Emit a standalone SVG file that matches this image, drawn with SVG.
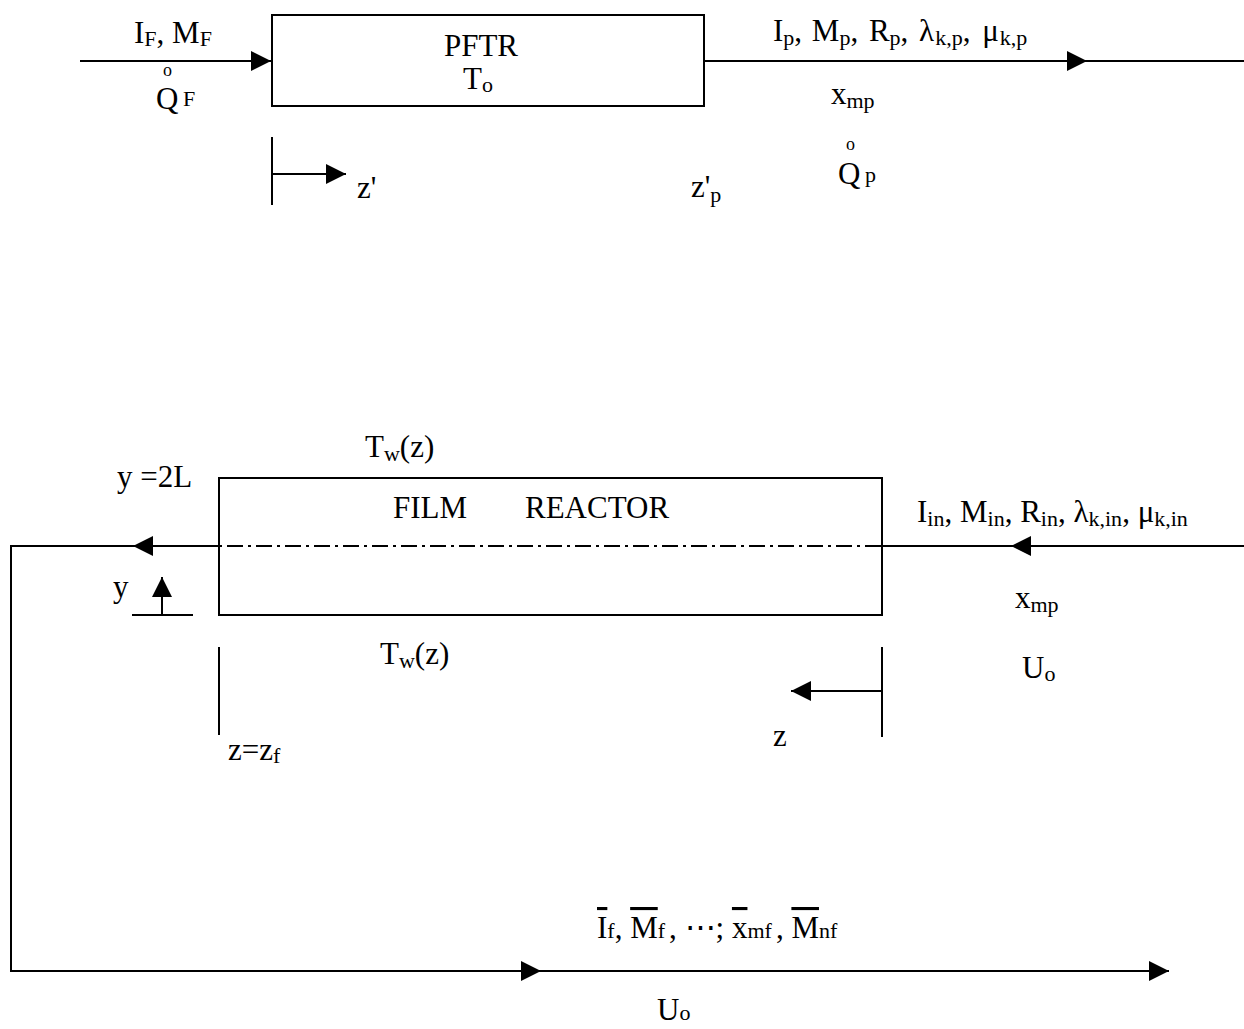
<svg xmlns="http://www.w3.org/2000/svg" width="1244" height="1029" viewBox="0 0 1244 1029">
<defs>
<style>
text{font-family:"Liberation Serif","Times New Roman",serif;font-size:31px;fill:#000}
.s{font-size:22px}
.sm{font-size:18px}
.ov{text-decoration:overline}
.ln{stroke:#000;stroke-width:2;fill:none}
.box{stroke:#000;stroke-width:2;fill:#fff}
.dd{stroke:#000;stroke-width:2;fill:none;stroke-dasharray:16 5 3 5}
</style>
<marker id="ah" viewBox="0 0 20 20" refX="20" refY="10" markerWidth="20" markerHeight="20" markerUnits="userSpaceOnUse" orient="auto">
<path d="M0,0 L20,10 L0,20 Z" fill="#000"/>
</marker>
</defs>
<rect width="1244" height="1029" fill="#fff"/>

<g id="connectors">
<line class="ln" x1="80" y1="61" x2="271" y2="61" marker-end="url(#ah)"/>
<line class="ln" x1="704" y1="61" x2="1087" y2="61" marker-end="url(#ah)"/>
<line class="ln" x1="1087" y1="61" x2="1244" y2="61"/>
<line class="ln" x1="272" y1="137" x2="272" y2="205"/>
<line class="ln" x1="272" y1="174" x2="346" y2="174" marker-end="url(#ah)"/>
<line class="ln" x1="1244" y1="546" x2="1011" y2="546" marker-end="url(#ah)"/>
<line class="ln" x1="1011" y1="546" x2="881" y2="546"/>
<line class="ln" x1="219" y1="546" x2="133" y2="546" marker-end="url(#ah)"/>
<polyline class="ln" points="133,546 11,546 11,971 541,971"/>
<line class="ln" x1="520" y1="971" x2="541" y2="971" marker-end="url(#ah)"/>
<line class="ln" x1="541" y1="971" x2="1169" y2="971" marker-end="url(#ah)"/>
<line class="ln" x1="132" y1="615" x2="193" y2="615"/>
<line class="ln" x1="162" y1="615" x2="162" y2="577" marker-end="url(#ah)"/>
<line class="ln" x1="219" y1="647" x2="219" y2="735"/>
<line class="ln" x1="882" y1="647" x2="882" y2="737"/>
<line class="ln" x1="882" y1="691" x2="791" y2="691" marker-end="url(#ah)"/>
</g>

<g id="pftr">
<rect class="box" x="272" y="15" width="432" height="91"/>
<text x="481" y="56" text-anchor="middle">PFTR</text>
<text x="463" y="89">T<tspan class="s" dy="3">o</tspan></text>
</g>

<g id="film-reactor">
<rect class="box" x="219" y="478" width="663" height="137" fill="none"/>
<line class="dd" x1="881" y1="546" x2="219" y2="546"/>
<text x="393" y="518">FILM</text>
<text x="525" y="518">REACTOR</text>
</g>

<g id="labels">
<text x="134" y="43">I<tspan class="s" dy="3">F</tspan><tspan dy="-3">, M</tspan><tspan class="s" dy="3">F</tspan></text>
<text x="163" y="76" class="sm">o</text>
<text x="156" y="109">Q</text>
<text x="183" y="106" class="s">F</text>
<text x="773" y="41">I<tspan class="s" dy="4">p</tspan><tspan dy="-4">, </tspan><tspan dx="2">M</tspan><tspan class="s" dy="4">p</tspan><tspan dy="-4">, </tspan><tspan dx="3">R</tspan><tspan class="s" dy="4">p</tspan><tspan dy="-4">, </tspan><tspan dx="3">λ</tspan><tspan class="s" dy="4" dx="1">k,p</tspan><tspan dy="-4">, </tspan><tspan dx="4">μ</tspan><tspan class="s" dy="4" dx="1">k,p</tspan></text>
<text x="831" y="104">x<tspan class="s" dy="4">mp</tspan></text>
<text x="846" y="150" class="sm">o</text>
<text x="838" y="184">Q</text>
<text x="865" y="182" class="s">p</text>
<text x="357" y="198">z'</text>
<text x="691" y="197">z'<tspan class="s" dy="5">p</tspan></text>

<text x="365" y="457">T<tspan class="s" dy="4">w</tspan><tspan dy="-4">(z)</tspan></text>
<text x="117" y="487">y =2L</text>
<text x="917" y="522">I<tspan class="s" dy="4">in</tspan><tspan dy="-4">, M</tspan><tspan class="s" dy="4">in</tspan><tspan dy="-4">, R</tspan><tspan class="s" dy="4">in</tspan><tspan dy="-4">, λ</tspan><tspan class="s" dy="4">k,in</tspan><tspan dy="-4">, μ</tspan><tspan class="s" dy="4">k,in</tspan></text>
<text x="113" y="597">y</text>
<text x="1015" y="608">x<tspan class="s" dy="4">mp</tspan></text>
<text x="380" y="664">T<tspan class="s" dy="4">w</tspan><tspan dy="-4">(z)</tspan></text>
<text x="1022" y="678">U<tspan class="s" dy="3">o</tspan></text>
<text x="773" y="746">z</text>
<text x="228" y="760">z=z<tspan class="s" dy="3">f</tspan></text>

<text x="597" y="938"><tspan class="ov">I</tspan><tspan class="s">f</tspan><tspan>, </tspan><tspan class="ov">M</tspan><tspan class="s">f</tspan><tspan dx="4">, ⋯; </tspan><tspan class="ov">x</tspan><tspan class="s">mf</tspan><tspan dx="4">, </tspan><tspan class="ov">M</tspan><tspan class="s">nf</tspan></text>
<text x="657" y="1020">U<tspan class="s">o</tspan></text>
</g>
</svg>
